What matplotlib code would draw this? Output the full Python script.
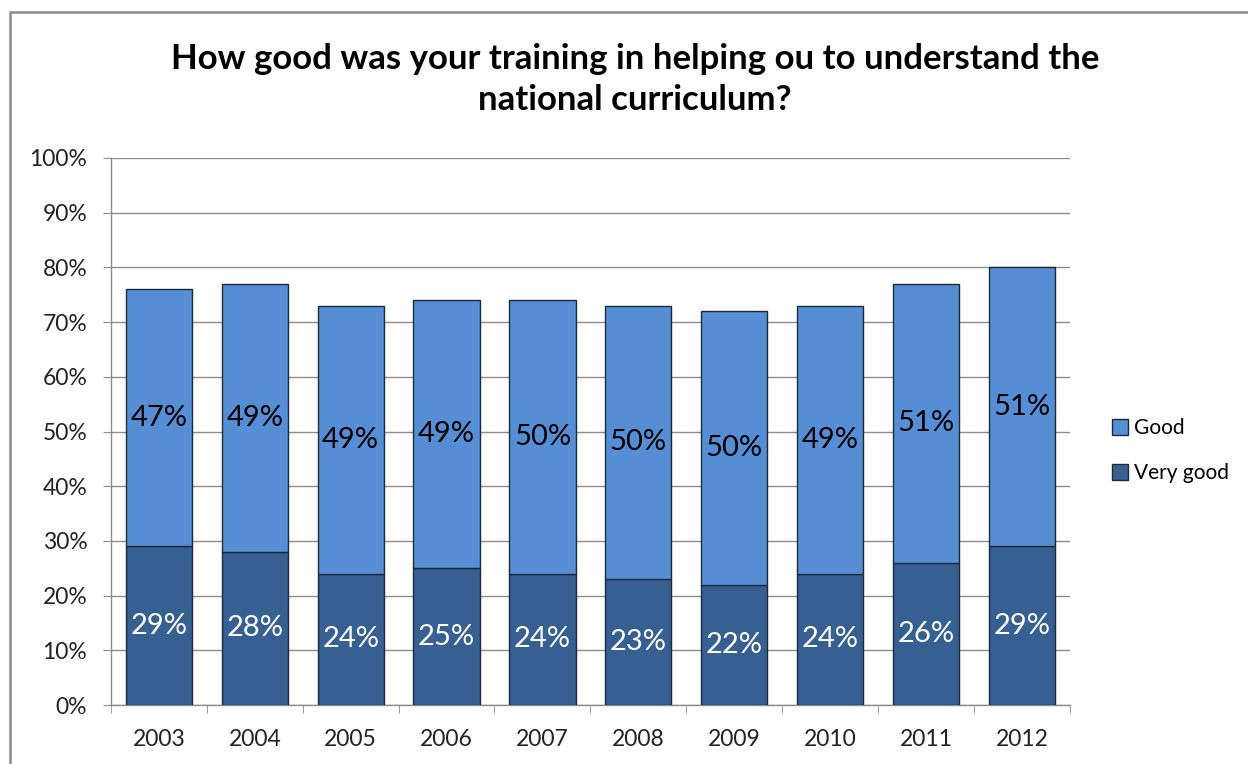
import numpy as np
import matplotlib

matplotlib.use("Agg")
import matplotlib.pyplot as plt  # noqa: E402
from matplotlib.patches import Rectangle  # noqa: E402

years = ["2003", "2004", "2005", "2006", "2007", "2008", "2009", "2010", "2011", "2012"]
very_good = [29, 28, 24, 25, 24, 23, 22, 24, 26, 29]
good = [47, 49, 49, 49, 50, 50, 50, 49, 51, 51]
y_ticks = [0, 10, 20, 30, 40, 50, 60, 70, 80, 90, 100]

plt.rcParams["font.family"] = ["Lato", "DejaVu Sans"]

fig = plt.figure(figsize=(12.48, 7.64), dpi=100)
ax = fig.add_axes([0.0889, 0.0772, 0.7683, 0.716])

x = np.arange(len(years))
vg = np.array(very_good)
gd = np.array(good)
b1 = ax.bar(x, vg, width=0.69, color="#376092", edgecolor="#1f2a36", linewidth=1.0,
            label="Very good", zorder=3)
b2 = ax.bar(x, gd, bottom=vg, width=0.69, color="#558ed5", edgecolor="#1f2a36",
            linewidth=1.0, label="Good", zorder=3)

# labels centred in each segment, like excel does
for i in range(len(years)):
    ax.text(x[i], vg[i] / 2, f"{vg[i]}%", ha="center", va="center",
            fontsize=21, color="white", zorder=4)
    ax.text(x[i], vg[i] + gd[i] / 2, f"{gd[i]}%", ha="center", va="center",
            fontsize=21, color="black", zorder=4)

ax.set_xlim(-0.5, len(years) - 0.5)
ax.set_ylim(0, 100)
ax.set_yticks(y_ticks)
ax.set_yticklabels([f"{t}%" for t in y_ticks], fontsize=16.5, color="#222222")
ax.yaxis.grid(True, color="#8c8c8c", linewidth=1.0, zorder=0)
ax.tick_params(axis="y", length=6, color="#8c8c8c", pad=11)

ax.set_xticks(x)
ax.set_xticklabels(years, fontsize=16.5, color="#222222")
ax.set_xticks(np.arange(len(years) + 1) - 0.5, minor=True)
ax.tick_params(axis="x", which="major", length=0, pad=17)
ax.tick_params(axis="x", which="minor", length=6, color="#8c8c8c")

for side in ["top", "right"]:
    ax.spines[side].set_visible(False)
for side in ["left", "bottom"]:
    ax.spines[side].set_color("#8c8c8c")
    ax.spines[side].set_linewidth(1.0)

fig.text(0.509, 0.896, "How good was your training in helping ou to understand the\nnational curriculum?",
         ha="center", va="center", fontsize=25, fontweight="bold", linespacing=1.36)

handles = [b2, b1]
leg = fig.legend(handles, ["Good", "Very good"], loc="center left",
                 bbox_to_anchor=(0.876, 0.41), frameon=False, fontsize=15,
                 handlelength=0.75, handleheight=0.75, handletextpad=0.3,
                 labelspacing=1.2)

fig.patches.append(Rectangle((10 / 1248, -0.1), 1.2, 1 - 12 / 764 + 0.1,
                             transform=fig.transFigure, fill=False,
                             edgecolor="#8a8a8a", linewidth=1.8))

fig.savefig("out.png", dpi=100)
plt.close(fig)
